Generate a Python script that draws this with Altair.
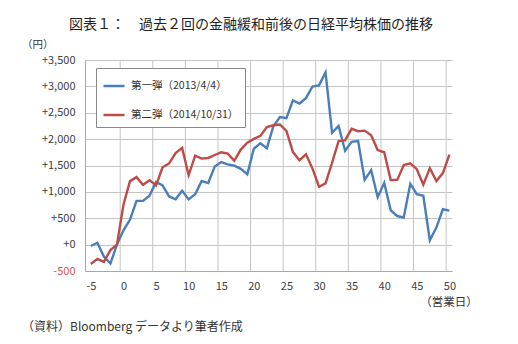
import altair as alt
import pandas as pd

# ---- data ----
days = list(range(-5, 51))
series_names = ["第一弾（2013/4/4）", "第二弾（2014/10/31）"]
first = [-26, 35, -227, -359, 0, 272, 471, 830, 830, 926,
         1187, 1123, 913, 859, 1020, 858, 954, 1206, 1167, 1481,
         1564, 1522, 1498, 1437, 1332, 1818, 1923, 1829, 2245, 2420,
         2396, 2734, 2675, 2776, 2998, 3019, 3265, 2121, 2250, 1780,
         1949, 1964, 1227, 1412, 899, 1171, 652, 542, 515, 1152,
         955, 927, 83, 324, 671, 645]
second = [-367, -270, -328, -104, 0, 756, 1204, 1279, 1134, 1222,
          1122, 1466, 1539, 1735, 1833, 1316, 1686, 1631, 1643, 1699,
          1749, 1725, 1590, 1802, 1932, 2005, 2062, 2229, 2262, 2277,
          2155, 1754, 1599, 1713, 1441, 1097, 1162, 1552, 1963, 1977,
          2196, 2150, 2161, 2072, 1793, 1751, 1225, 1227, 1509, 1540,
          1430, 1138, 1450, 1206, 1356, 1708]
x_ticks = list(range(-5, 51, 5))
x_grid = [-0.5, 4.5, 9.5, 14.5, 19.5, 24.5, 29.5, 34.5, 39.5, 44.5, 49.5]
y_ticks = list(range(-500, 3501, 500))

title_text = "図表１：　過去２回の金融緩和前後の日経平均株価の推移"
unit_text = "（円）"
xunit_text = "（営業日）"
source_text = "（資料）Bloomberg データより筆者作成"

df = pd.DataFrame({
    "day": days * 2,
    "value": first + second,
    "series": [series_names[0]] * len(days) + [series_names[1]] * len(days),
})

W, H = 367, 211
FONT = "Noto Sans CJK JP"
GRID = "#c4c4c4"
BLUE = "#4A7EBB"
RED = "#BE4B48"

xscale = alt.Scale(domain=[-5.9, 50.4], nice=False, zero=False)
xaxis = alt.Axis(values=x_ticks, title=None, grid=False, ticks=False,
                 labelPadding=9, labelFontSize=11, labelColor="#404040",
                 labelFont=FONT, domainColor="#a8a8a8", labelFlush=False,
                 labelExpr="datum.value < 0 ? '-' + format(abs(datum.value), 'd') : format(datum.value, 'd')")
yaxis = alt.Axis(values=y_ticks, title=None, grid=True, gridColor=GRID,
                 ticks=False, labelPadding=10, labelFontSize=11, labelFont=FONT,
                 domainColor="#a8a8a8",
                 labelExpr="datum.value >= 0 ? '+' + format(datum.value, ',') : '-' + format(abs(datum.value), ',')",
                 labelColor=alt.expr("datum.value < 0 ? '#d9534f' : '#404040'"))

grid = alt.Chart(pd.DataFrame({"day": x_grid})).mark_rule(
    color=GRID, strokeWidth=1
).encode(
    x=alt.X("day:Q", scale=xscale, axis=xaxis),
    y=alt.value(0), y2=alt.value(H),
)

lines = alt.Chart(df).mark_line(strokeWidth=2.4).encode(
    x=alt.X("day:Q", scale=xscale, axis=xaxis),
    y=alt.Y("value:Q", scale=alt.Scale(domain=[-500, 3500], nice=False), axis=yaxis),
    color=alt.Color("series:N",
                    scale=alt.Scale(domain=series_names, range=[BLUE, RED]),
                    legend=alt.Legend(title=None, orient="none", legendX=11, legendY=8,
                                      direction="vertical", symbolType="stroke",
                                      symbolSize=440, symbolStrokeWidth=2.5,
                                      labelFont=FONT, labelFontSize=10.5, labelColor="#333333",
                                      strokeColor="#888888", fillColor="white",
                                      padding=6, rowPadding=11, labelOffset=5,
                                      cornerRadius=0)),
)

def label(text, x, y, size, align="left", color="#333333"):
    return alt.Chart(pd.DataFrame({"t": [text]})).mark_text(
        font=FONT, fontSize=size, align=align, baseline="middle", color=color
    ).encode(text="t:N", x=alt.value(x), y=alt.value(y))

chart = alt.layer(
    grid, lines,
    label(title_text, 166, -35, 14, "center", "#222222"),
    label(unit_text, -63, -15, 10.5),
    label(xunit_text, 364, 243, 11.5, "center"),
    label(source_text, -63, 267, 12),
).properties(
    width=W, height=H,
    autosize=alt.AutoSizeParams(type="none"),
    padding={"left": 85, "top": 60, "right": 66, "bottom": 73},
).configure_view(stroke=None)

chart.save("out.html", embed_options={"renderer": "svg", "actions": False})
